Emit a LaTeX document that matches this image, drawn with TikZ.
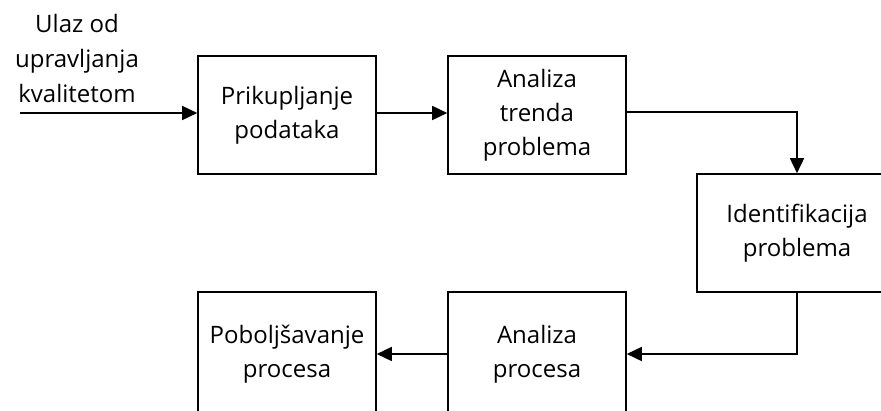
\documentclass[tikz,border=0pt]{standalone}
\usepackage{fontspec}
\setmainfont{Open Sans}
\usetikzlibrary{arrows.meta}
\begin{document}
\begin{tikzpicture}[x=1pt,y=-1pt,
  box/.style={draw,line width=1.6pt,minimum width=178pt,minimum height=118pt,inner sep=0pt,align=center,
    font=\fontsize{24}{34}\selectfont},
  conn/.style={line width=1.6pt,-{Triangle[length=15pt,width=14pt]}},
  lbl/.style={align=center,font=\fontsize{24}{35}\selectfont,inner sep=0pt}]
\useasboundingbox (0,0) rectangle (881,410);
\clip (0,0) rectangle (881,410);
\node[box] (b1) at (287,115) {Prikupljanje\\podataka};
\node[box] (b2) at (537,115) {Analiza\\trenda\\problema};
\node[box,minimum width=200pt] (b3) at (797,233) {Identifikacija\\problema};
\node[box,minimum height=124pt] (b5) at (537,354) {Analiza\\procesa};
\node[box,minimum height=124pt] (b4) at (287,354) {Poboljšavanje\\procesa};
\node[lbl] (in) at (77,58) {Ulaz od\\upravljanja\\kvalitetom};
\coordinate (s) at (20,113);
\draw[conn] (s) -- (s -| b1.west);
\draw[conn] (b1.east |- s) -- (s -| b2.west);
\draw[conn] (b2.east |- 0,112) -- (797,112) -- (b3.north);
\draw[conn] (b3.south) -- (797,354) -- (b5.east);
\draw[conn] (b5.west) -- (b4.east);
\end{tikzpicture}
\end{document}
